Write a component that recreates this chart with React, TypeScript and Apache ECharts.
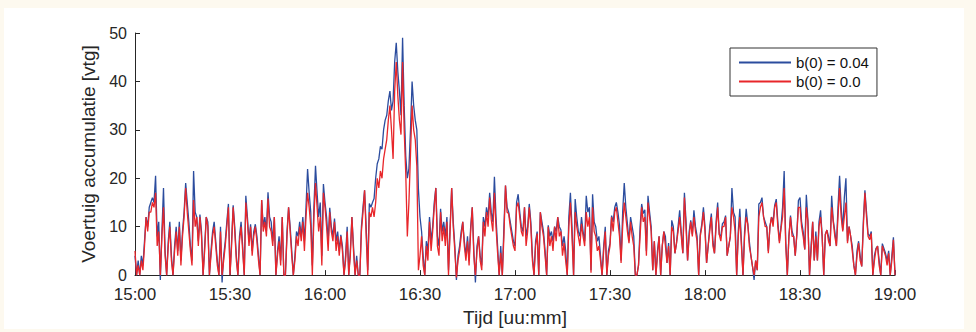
import React, { useEffect, useRef } from "react";
import * as echarts from "echarts";

// Time axis: 15:00 .. 19:00, samples every 30 s
const stepMinutes = 0.5;
const axisMaxMinutes = 240;
const tickLabels = ["15:00", "15:30", "16:00", "16:30", "17:00", "17:30", "18:00", "18:30", "19:00"];
const seriesNames = ["b(0) = 0.04", "b(0) = 0.0"];
const yAxisName = "Voertuig accumulatie [vtg]";
const xAxisName = "Tijd [uu:mm]";

// b(0) = 0.04 (blue)
const blueValues = [
  4, 0, 3, 0, 4, 2, 7, 12, 10, 14, 15, 16, 15, 20.5, 8, 11, -1, 9, 18, 5,
  0, 7, 11, 4, 0, 6, 10, 5, 11, 3, 9, 13, 19, 15, 11, 6, 3, 21.5, 13, 12,
  7, 12.5, 9, 0, 6, 12, 11, 0, 5, 9, 11, 7, 3, 0, 10, -1.5, 4, 7, 11, 14.7,
  0, 7, 14.4, 10, 4, 0, 8, 11, 6, 0, 16.4, 12, 7, 10.5, 5, 9, 10.5, 8, 4, 0,
  15.5, 10, 12, 9, 17.1, 12, 11, 7, 12, 0, 5, 8, 3, 12, 0, 0, 9, 14, 10, 5,
  0, 4, 9, 8, 11, 8, 12, 7, 14, 21.9, 17, 13, 2, 14, 22.6, 17, 12, 15, 4, 18.8,
  15, 12, 7, 13.9, 10, 8, 11.7, 7, 9, 5, 8.3, 6, 0, 4, 10, 0, 5, 12, 6, 0,
  4, 0, 0, 10, 14, 17.5, 10, 1, 14.8, 14, 15, 15.8, 20, 23, 24, 26.6, 26, 30, 32, 33,
  36, 38, 34, 36, 44, 48, 42, 38, 33, 49, 35, 24.6, 20, 22, 30, 40, 35, 32, 30, 17.7,
  12, 9, 4, 0, 7, 5, 12, 7, 10, 15, 18, 8, 6, 13.7, 9, 11, 8, 12, 1, 10,
  18, 11, 6, -1, 4, 6, 9, 11, 7, 4, 8, 3, 10, 14, 5, -1.5, 6, 8, 4, 2,
  12, 10, 14, 12, 17, 13, 11, 20.3, 12, 6, 0, 6, 0, 10, 18.5, 14, 13, 11, 9, 7,
  6, 15, 16.7, 13, 10, 9, 14, 8, 10, 14.7, 11, 4, 0, 7, 9, 0, 13, 11, 9, 5,
  0, 10.3, 8, 9, 7, 10, 9, 12, 10, 9.3, 6, 8, 5, 0, 12, 17, 10, 0, 15.7, 12,
  9, 8, 12, 9, 7, 16.4, 13, 14, 1, 16.7, 11, 10, 7, 8, 4, 0, 6, 10, 0, 5,
  6.6, 12.3, 11, 14, 15, 13, 10.3, 3, 13, 19, 14, 10.6, 7, 12, 10, 8, 0, 0, 2, 10,
  14.7, 12.7, 13.5, 5, 16.4, 13, 10, 1, 7, 0, 5, 8, 0, 6, 9, 8, 2.5, 6.6, 0, 11.3,
  10, 4.5, 6.6, 10, 13.4, 9, 4.5, 17, 11.3, 3, 9, 11.3, 8.4, 13.4, 10, 8, 0, 8.4, 10.6, 14,
  10, 2.5, 6, 10, 12.7, 7, 4.5, 11, 15, 8.4, 8, 10.6, 11, 12.3, 4, 6, 8, 18, 13, 12,
  0, 9, 13.7, 7, 0, 9, 13.7, 10.6, 7, 4, 1.8, -1, 3, 1, 14.7, 15, 16, 12, 11, 10,
  5, 10, 12, 11, 14.4, 15.7, 11, 7, 10, 14, 21.5, 7, 0, 8, 12.3, 9, 8, 4, 8.4, 15.4,
  16, 11, 9, 5.3, 16.6, 11.3, 0, 6, 11, 3, 9, 3, 11, 13.4, 8, 0, 8.4, 9.3, 8, 6,
  16.4, 11.3, 9, 6, 14, 20.5, 14, 9.3, 16, 20, 7, 10, 8, 6, 2, 0, 5, 7, 4, 1.8,
  11, 17.5, 13, 8.5, 8, 9, 0, 4, 5.5, 6, 3, 0, 6.5, 5.5, 4.5, 3, 5, 0, 4, 7.8, 0,
];

// b(0) = 0.0 (red)
const redValues = [
  5, 0, 2, 0, 3, 1, 6, 12, 9, 13, 13, 15, 14, 17, 6, 9, 0, 8, 14, 4,
  0, 6, 10, 3, 0, 5, 9, 4, 10, 2, 8, 12, 18, 13, 9, 5, 2, 15.5, 10, 12,
  6, 12, 8, 0, 5, 12, 10, 0, 4, 8, 10, 6, 2, 0, 9, 0, 3, 6, 10, 14,
  0, 6, 14, 9, 3, 0, 7, 10, 5, 0, 15, 11, 6, 10, 4, 8, 10, 7, 3, 0,
  15.5, 9, 11, 8, 15.8, 10, 9, 6, 12, 0, 4, 7, 2, 12, 0, 0, 8, 14, 9, 4,
  0, 3, 8, 6, 10, 7, 11, 5, 12, 17, 14, 10, 0, 12, 19, 14, 9, 12, 2, 17,
  14, 10, 5, 13, 9, 7, 11, 5, 8, 4, 8, 5, 0, 3, 9, 0, 4, 12, 5, 0,
  3, 0, 0, 9, 13, 17.5, 8, 0, 13, 12, 14, 12, 15, 20, 18, 21.5, 20, 24, 26, 28,
  32, 35, 30, 24, 38, 44, 37, 32, 29, 44, 30, 21, 8, 15, 25, 35, 30, 28, 22.5, 1,
  4, 8, 2, 0, 6, 3, 11, 5, 9, 14, 18, 6, 4, 13, 7, 10, 6, 11, 0, 9,
  18, 10, 5, -0.5, 3, 5, 8, 11, 6, 3, 7, 2, 9, 14, 4, 0, 5, 8, 3, 1,
  11, 8, 13, 10, 16, 11.5, 9, 17, 10, 4.6, 0, 4.6, 0, 8, 18.5, 13, 12.7, 10, 8, 6,
  5, 14, 15, 12, 9, 8, 14, 6, 9, 14, 10, 3, 0, 6, 8.6, 0, 13, 10, 8, 4,
  0, 10, 6, 8, 5, 10, 7, 12, 8, 9, 4, 6.6, 3, 0, 10, 15, 8, 0, 13, 10,
  8, 6, 10.6, 8, 6, 13, 10, 12, 0.5, 14, 9, 8, 5, 6, 3, 0, 5, 9, 0, 4,
  6, 12, 9, 13, 14, 11, 8, 2.5, 10, 15, 12, 9, 6.6, 11, 8, 6, 0, 0, 2, 8,
  14, 11, 12, 4, 15, 12, 9, 1, 7, 0, 4, 8, 0, 6, 9, 6, 2.5, 6, 0, 10,
  9, 4.5, 6.6, 9, 12, 8, 4.5, 16, 10, 3, 8, 11, 8, 12, 9, 7, 0, 8, 10, 13,
  9, 2.5, 6, 9, 12, 6, 4.5, 10, 14, 8.4, 7, 10, 10, 12, 4, 6, 8, 14, 12, 9,
  0, 8, 12, 6, 0, 8, 12, 10.6, 6, 4, 1.8, 0, 3, 1, 12, 14, 15, 12, 10, 10,
  4.5, 10, 12, 10, 14, 15, 10, 6.6, 9.6, 12, 18, 6, 0, 8, 12, 8, 8, 4, 8.4, 14,
  14, 10, 8, 5.3, 14, 11, 0, 5, 11, 3, 8, 3, 10, 12, 8, 0, 8.4, 9.3, 7, 6,
  14, 11, 8, 6, 12, 18, 12, 9, 12, 15, 6.6, 10, 8, 5, 2, 0, 4, 6.6, 3, 1.8,
  10, 17, 12, 8, 7.3, 8.6, 0, 3, 5.3, 6, 2, 0, 6, 5, 4, 2, 4.5, 0, 3, 7.3, 0,
];

const FONT = "'Liberation Sans', Arial, Helvetica, sans-serif";
const TEXT = "#262626";

function toPairs(values: number[]): [number, number][] {
  return values.map((v, i) => [i * stepMinutes, v]);
}

export default function App() {
  const ref = useRef<HTMLDivElement>(null);

  useEffect(() => {
    if (!ref.current) return;
    const chart = echarts.init(ref.current, null, { renderer: "svg" });
    chart.setOption({
      animation: false,
      backgroundColor: "transparent",
      textStyle: { fontFamily: FONT },
      grid: { left: 135, right: 81, top: 33, bottom: 53, containLabel: false },
      legend: {
        orient: "vertical",
        left: 730,
        top: 48,
        padding: [7, 8, 7, 9],
        itemGap: 4,
        itemWidth: 52,
        itemHeight: 2,
        icon: "rect",
        backgroundColor: "#ffffff",
        borderColor: "#333333",
        borderWidth: 1,
        borderRadius: 0,
        textStyle: { fontFamily: FONT, fontSize: 15, color: "#111111" },
        data: seriesNames,
      },
      xAxis: {
        type: "value",
        min: 0,
        max: axisMaxMinutes,
        interval: 30,
        name: xAxisName,
        nameLocation: "middle",
        nameGap: 32,
        nameTextStyle: { fontFamily: FONT, fontSize: 19, color: TEXT },
        axisLine: { show: true, onZero: false, lineStyle: { color: TEXT, width: 1 } },
        axisTick: { show: true, inside: true, length: 5, lineStyle: { color: TEXT } },
        axisLabel: {
          fontFamily: FONT,
          fontSize: 17,
          color: TEXT,
          margin: 11,
          formatter: (v: number) => tickLabels[Math.round(v / 30)] ?? "",
        },
        splitLine: { show: false },
      },
      yAxis: {
        type: "value",
        min: 0,
        max: 50,
        interval: 10,
        name: yAxisName,
        nameLocation: "middle",
        nameGap: 30,
        nameRotate: 90,
        nameTextStyle: { fontFamily: FONT, fontSize: 19, color: TEXT },
        axisLine: { show: true, lineStyle: { color: TEXT, width: 1 } },
        axisTick: { show: true, inside: true, length: 5, lineStyle: { color: TEXT } },
        axisLabel: { fontFamily: FONT, fontSize: 16, color: TEXT, margin: 8 },
        splitLine: { show: false },
      },
      series: [
        {
          name: seriesNames[0],
          type: "line",
          color: "#2b4c9e",
          data: toPairs(blueValues),
          showSymbol: false,
          clip: false,
          lineStyle: { width: 1.3, color: "#2b4c9e" },
          z: 2,
        },
        {
          name: seriesNames[1],
          type: "line",
          color: "#e8262a",
          data: toPairs(redValues),
          showSymbol: false,
          clip: false,
          lineStyle: { width: 1.3, color: "#e8262a" },
          z: 3,
        },
      ],
    });
    return () => chart.dispose();
  }, []);

  return (
    <div
      style={{
        position: "fixed",
        left: 0,
        top: 0,
        width: 976,
        height: 332,
        background: "#fdf9ef",
        overflow: "hidden",
      }}
    >
      <div
        style={{
          position: "absolute",
          left: 4,
          top: 8,
          width: 960,
          height: 321,
          background: "#ffffff",
        }}
      />
      <div ref={ref} style={{ position: "absolute", left: 0, top: 0, width: 976, height: 332 }} />
    </div>
  );
}
